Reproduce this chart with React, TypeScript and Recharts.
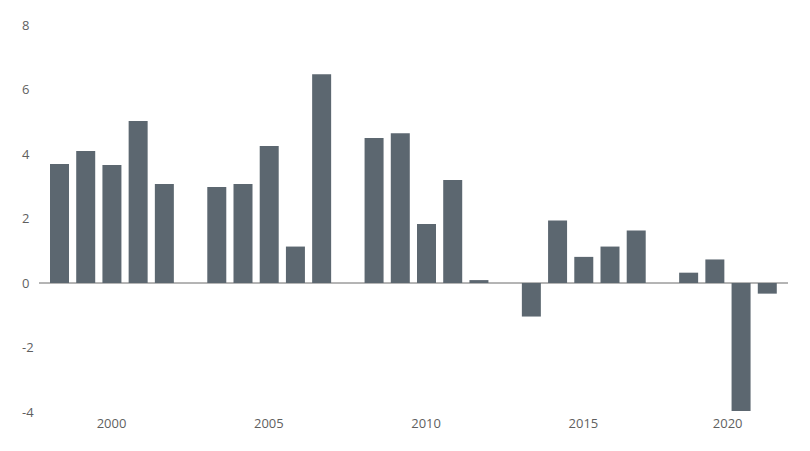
import React from "react";
import { BarChart, Bar, XAxis, YAxis, CartesianGrid } from "recharts";

// Years and annual values
const years = [
  "1998", "1999", "2000", "2001", "2002",
  "2003", "2004", "2005", "2006", "2007",
  "2008", "2009", "2010", "2011", "2012",
  "2013", "2014", "2015", "2016", "2017",
  "2018", "2019", "2020", "2021",
];
const values = [
  3.69, 4.09, 3.66, 5.02, 3.07,
  2.98, 3.07, 4.25, 1.13, 6.47,
  4.5, 4.64, 1.83, 3.19, 0.09,
  -1.04, 1.94, 0.81, 1.13, 1.63,
  0.32, 0.73, -3.97, -0.33,
];
// an empty slot follows each of these years
const gapAfter = ["2002", "2007", "2012", "2017"];
const xTicks = ["2000", "2005", "2010", "2015", "2020"];
const yTicks = [-4, -2, 0, 2, 4, 6, 8];
const yMin = yTicks[0];
const yMax = yTicks[yTicks.length - 1];

type Row = { slot: string; value: number | null };

const rows: Row[] = [];
years.forEach((y, i) => {
  rows.push({ slot: y, value: values[i] });
  if (gapAfter.includes(y)) rows.push({ slot: `gap-${y}`, value: null });
});

const FONT = "'Open Sans', sans-serif";
const TEXT = "#5f5f5f";

const XTick = (props: any) => {
  const { x, y, payload } = props;
  // the last label sits between two bars in the original
  const shift = payload.value === "2020" ? -13 : 0;
  return (
    <text x={x + shift} y={y} dy="0.71em" textAnchor="middle" fill={TEXT} fontSize={13} fontFamily={FONT}>
      {payload.value}
    </text>
  );
};

const YTick = (props: any) => {
  const { x, y, payload } = props;
  return (
    <text x={x} y={y} dy="0.355em" textAnchor="start" fill={TEXT} fontSize={13} fontFamily={FONT}>
      {payload.value}
    </text>
  );
};

// zero line across the full plot width
const zeroLine = ({ offset }: any) => [
  offset.top + (offset.height * yMax) / (yMax - yMin),
];

const App: React.FC = () => (
  <BarChart
    width={802}
    height={443}
    data={rows}
    margin={{ top: 17, right: 22, left: 0, bottom: 9 }}
    barCategoryGap={0}
  >
    <CartesianGrid
      vertical={false}
      stroke="#6b6b6b"
      horizontalCoordinatesGenerator={zeroLine}
    />
    <XAxis
      dataKey="slot"
      ticks={xTicks}
      interval={0}
      axisLine={false}
      tickLine={false}
      tickSize={0}
      tickMargin={7}
      height={30}
      padding={{ left: 7, right: 8 }}
      tick={<XTick />}
    />
    <YAxis
      domain={[yMin, yMax]}
      ticks={yTicks}
      width={31}
      axisLine={false}
      tickLine={false}
      tickSize={0}
      tickMargin={17}
      tick={<YTick />}
    />
    <Bar dataKey="value" fill="#5c6770" barSize={19} isAnimationActive={false} />
  </BarChart>
);

export default App;
